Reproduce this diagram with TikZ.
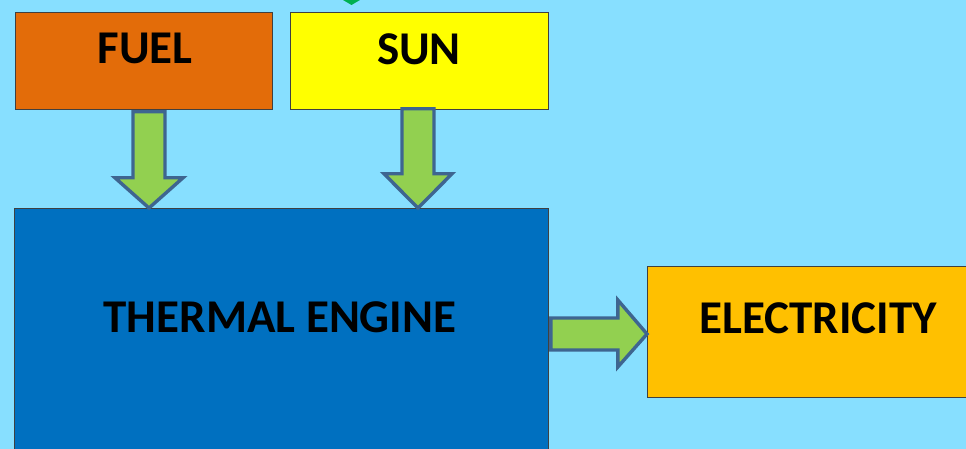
\documentclass[tikz,border=0pt]{standalone}
\usepackage{fontspec}
\setmainfont{Carlito}
\usetikzlibrary{calc}
\definecolor{skybg}{HTML}{87DFFF}
\definecolor{fuelc}{HTML}{E36C09}
\definecolor{sunc}{HTML}{FFFF00}
\definecolor{enginec}{HTML}{0070C0}
\definecolor{elecc}{HTML}{FFC000}
\definecolor{arrowfill}{HTML}{92D050}
\definecolor{arrowline}{HTML}{3E6590}
\definecolor{tipgreen}{HTML}{00B050}
\tikzset{
  block/.style={draw=black!75, line width=0.8pt, anchor=north west, inner sep=0pt},
  caption/.style={font=\fontsize{47}{52}\selectfont\bfseries, text=black, inner sep=0pt},
  blockarrow/.style={fill=arrowfill, draw=arrowline, line width=3.4pt, line join=miter},
}
\begin{document}
\begin{tikzpicture}[x=1pt,y=-1pt]
  \useasboundingbox (0,0) rectangle (966,449);
  \clip (0,0) rectangle (966,449);
  \fill[skybg] (0,0) rectangle (966,449);

  % small arrow tip entering from above
  \fill[tipgreen] (343,0) -- (360,0) -- (351.5,5) -- cycle;

  % boxes
  \node[block, fill=fuelc, minimum width=257pt, minimum height=97pt] (fuel) at (15,12) {};
  \node[block, fill=sunc, minimum width=258pt, minimum height=97pt] (sun) at (290,12) {};
  \node[block, fill=enginec, minimum width=534pt, minimum height=260pt] (engine) at (14,208) {};
  \node[block, fill=elecc, minimum width=330pt, minimum height=131pt] (elec) at (647,266) {};

  % captions
  \node[caption] (fuelt) at (145,48) {FUEL};
  \node[caption] (sunt) at (419,49) {SUN};
  \node[caption] (enginet) at (280,317.5) {THERMAL ENGINE};
  \node[caption] (elect) at (818,318.5) {ELECTRICITY};

  % fuel -> engine
  \coordinate (a1) at (149,0);
  \draw[blockarrow]
    ($(a1|-fuel.south)+(-16,2)$) -- ($(a1|-fuel.south)+(16,2)$) --
    ($(a1|-fuel.south)+(16,68)$) -- ($(a1|-fuel.south)+(34,68)$) --
    (a1|-engine.north) --
    ($(a1|-fuel.south)+(-34,68)$) -- ($(a1|-fuel.south)+(-16,68)$) -- cycle;

  % sun -> engine
  \coordinate (a2) at (418,0);
  \draw[blockarrow]
    ($(a2|-sun.south)+(-16,-1)$) -- ($(a2|-sun.south)+(16,-1)$) --
    ($(a2|-sun.south)+(16,64)$) -- ($(a2|-sun.south)+(34,64)$) --
    (a2|-engine.north) --
    ($(a2|-sun.south)+(-34,64)$) -- ($(a2|-sun.south)+(-16,64)$) -- cycle;

  % engine -> electricity
  \coordinate (a3) at (0,334);
  \draw[blockarrow]
    ($(a3-|engine.east)+(2,-16)$) -- ($(a3-|engine.east)+(69,-16)$) --
    ($(a3-|engine.east)+(69,-34)$) --
    (a3-|elec.west) --
    ($(a3-|engine.east)+(69,33)$) -- ($(a3-|engine.east)+(69,16)$) --
    ($(a3-|engine.east)+(2,16)$) -- cycle;
\end{tikzpicture}
\end{document}
